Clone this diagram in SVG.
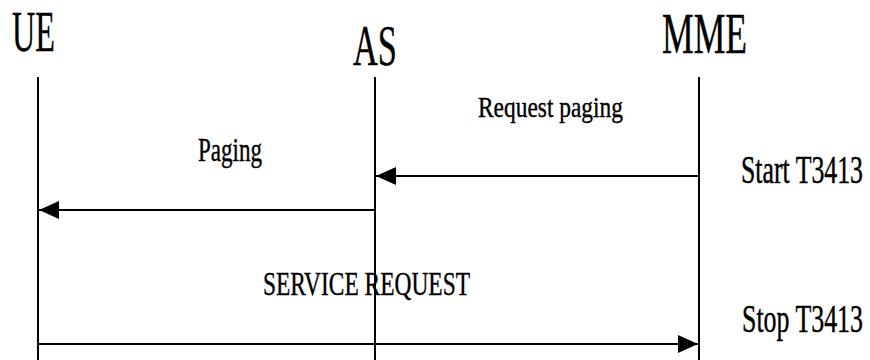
<svg xmlns="http://www.w3.org/2000/svg" width="870" height="360" viewBox="0 0 870 360">
<style>
text{font-family:"Liberation Serif","Times New Roman",serif;fill:#000;stroke:#000;stroke-width:0.4}
.life{stroke:#000;stroke-width:2;fill:none}
.msg{stroke:#000;stroke-width:2;fill:none}
.big{font-size:57px}
.mid{font-size:34px}
.tmr{font-size:26px;stroke-width:0.3}
.req{font-size:30px}
</style>
<defs>
<marker id="ah" viewBox="0 0 20 18" refX="20" refY="9" markerWidth="20" markerHeight="18" markerUnits="userSpaceOnUse" orient="auto">
<path d="M0,0 L20,9 L0,18 Z" fill="#000"/>
</marker>
</defs>
<rect width="870" height="360" fill="#fff"/>
<g id="UE">
<text class="big" x="12" y="51" textLength="43" lengthAdjust="spacingAndGlyphs">UE</text>
<line class="life" x1="38" y1="77" x2="38" y2="360"/>
</g>
<g id="AS">
<text class="big" x="353" y="65" textLength="44" lengthAdjust="spacingAndGlyphs">AS</text>
<line class="life" x1="375" y1="77" x2="375" y2="360"/>
</g>
<g id="MME">
<text class="big" x="662" y="53" textLength="85" lengthAdjust="spacingAndGlyphs">MME</text>
<line class="life" x1="699" y1="77" x2="699" y2="360"/>
</g>
<g id="timers">
<text class="tmr" transform="translate(741,183) scale(1,1.5)" x="0" y="0" textLength="122" lengthAdjust="spacingAndGlyphs">Start T3413</text>
<text class="tmr" transform="translate(742,332) scale(1,1.5)" x="0" y="0" textLength="121" lengthAdjust="spacingAndGlyphs">Stop T3413</text>
</g>
<g id="connectors">
<line class="msg" x1="699" y1="176" x2="376" y2="176" marker-end="url(#ah)"/>
<text class="req" x="478" y="117" textLength="145" lengthAdjust="spacingAndGlyphs">Request paging</text>
<line class="msg" x1="375" y1="210" x2="39" y2="210" marker-end="url(#ah)"/>
<text class="mid" x="198" y="161" textLength="64" lengthAdjust="spacingAndGlyphs">Paging</text>
<line class="msg" x1="38" y1="344" x2="698" y2="344" marker-end="url(#ah)"/>
<text class="mid" x="263" y="295" textLength="207" lengthAdjust="spacingAndGlyphs">SERVICE REQUEST</text>
</g>
</svg>
